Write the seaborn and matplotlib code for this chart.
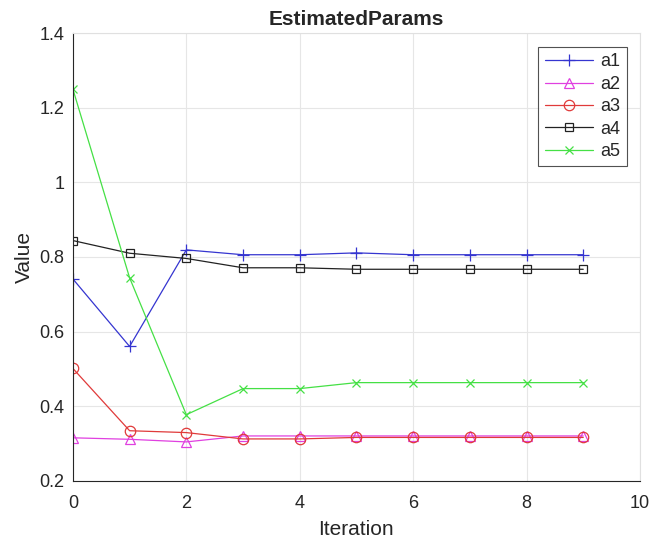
import numpy as np
import pandas as pd
import matplotlib
matplotlib.use('Agg')
import matplotlib.pyplot as plt
import seaborn as sns

iteration = [0, 1, 2, 3, 4, 5, 6, 7, 8, 9]
a1 = [0.741, 0.560, 0.819, 0.806, 0.806, 0.811, 0.806, 0.806, 0.806, 0.806]
a2 = [0.315, 0.311, 0.304, 0.320, 0.320, 0.320, 0.320, 0.320, 0.320, 0.320]
a3 = [0.501, 0.334, 0.329, 0.312, 0.312, 0.316, 0.316, 0.316, 0.316, 0.316]
a4 = [0.844, 0.810, 0.796, 0.771, 0.771, 0.767, 0.767, 0.767, 0.767, 0.767]
a5 = [1.250, 0.744, 0.377, 0.447, 0.447, 0.463, 0.463, 0.463, 0.463, 0.463]

series = {'a1': a1, 'a2': a2, 'a3': a3, 'a4': a4, 'a5': a5}
colors = {'a1': '#3535d0', 'a2': '#e040e0', 'a3': '#e03a3a', 'a4': '#222222', 'a5': '#45e045'}
markers = {'a1': '+', 'a2': '^', 'a3': 'o', 'a4': 's', 'a5': 'x'}
msizes = {'a1': 8, 'a2': 7, 'a3': 7.5, 'a4': 6, 'a5': 5.5}

sns.set_style('white')
plt.rcParams['font.family'] = ['Liberation Sans', 'DejaVu Sans']

fig, ax = plt.subplots(figsize=(6.51, 5.45), dpi=100)
for name, vals in series.items():
    filled = markers[name] in ('+', 'x')
    sns.lineplot(x=iteration, y=vals, ax=ax, color=colors[name], label=name,
                 marker=markers[name], markersize=msizes[name], linewidth=0.9,
                 markerfacecolor='none' if not filled else colors[name],
                 markeredgecolor=colors[name], markeredgewidth=0.9)

ax.set_xlim(0, 10)
ax.set_ylim(0.2, 1.4)
ax.set_xticks([0, 2, 4, 6, 8, 10])
ax.set_yticks([0.2, 0.4, 0.6, 0.8, 1, 1.2, 1.4])
ax.set_yticklabels(['0.2', '0.4', '0.6', '0.8', '1', '1.2', '1.4'])
ax.grid(True, color='#e6e6e6', linewidth=0.8)
ax.tick_params(labelsize=13, direction='in', length=3, colors='#262626', pad=6)
ax.tick_params(axis='x', pad=10)
for side, s in ax.spines.items():
    s.set_linewidth(0.8)
    s.set_color('#262626' if side in ('left', 'bottom') else '#e0e0e0')
ax.set_xlabel('Iteration', fontsize=15, color='#262626', labelpad=6)
ax.set_ylabel('Value', fontsize=15, color='#262626')
ax.set_title('EstimatedParams', fontsize=15, fontweight='bold', pad=6)

leg = ax.legend(loc='upper right', fontsize=13, frameon=True, fancybox=False,
                edgecolor='#262626', handlelength=2.7, handletextpad=0.4,
                borderpad=0.35, labelspacing=0.3, borderaxespad=0,
                bbox_to_anchor=(0.977, 0.969))
leg.get_frame().set_linewidth(0.8)

fig.subplots_adjust(left=0.112, right=0.983, top=0.939, bottom=0.118)
fig.savefig('out.png', dpi=100)
